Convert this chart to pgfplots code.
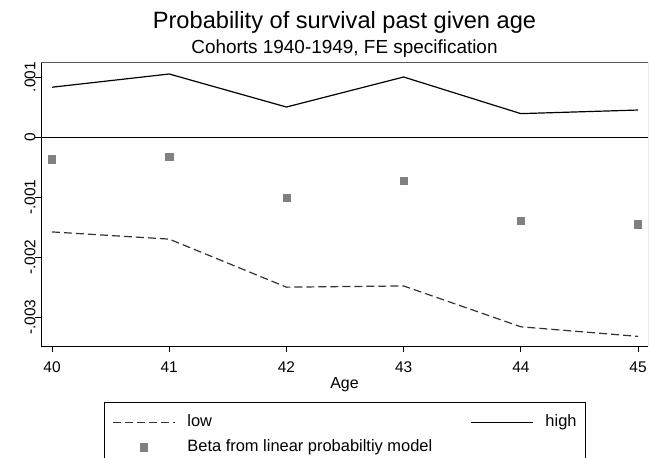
\documentclass[border=0pt]{standalone}
\usepackage{fontspec}
\setmainfont{Liberation Sans}
\usepackage{pgfplots}
\pgfplotsset{compat=1.18}
\begin{document}
\begin{tikzpicture}
\begin{axis}[
  scale only axis, width=607bp, height=284bp,
  xmin=39.906, xmax=45.085, ymin=-0.00348, ymax=0.00125,
  axis x line*=bottom, axis y line*=left,
  axis line style={line width=0.9bp, black},
  xtick={40,41,42,43,44,45}, xticklabels={40,41,42,43,44,45},
  ytick={-0.003,-0.002,-0.001,0,0.001}, yticklabels={-.003,-.002,-.001,0,.001},
  scaled y ticks=false, scaled x ticks=false,
  tick align=outside, major tick length=6bp,
  tick style={black, line width=0.9bp},
  xticklabel style={font=\fontsize{15.5}{16}\selectfont, anchor=base, yshift=-20bp},
  yticklabel style={rotate=90, anchor=south, font=\fontsize{15.5}{16}\selectfont},
  yticklabel shift=-4bp,
  xlabel={Age}, xlabel style={font=\fontsize{16}{16}\selectfont, at={(axis description cs:0.5,-0.1514)}, anchor=base},
  legend columns=2,
  legend cell align=left,
  legend style={at={(axis description cs:0.1038,-0.1972)}, anchor=north west,
    draw=none, fill=none, font=\fontsize{16.5}{16.5}\selectfont,
    nodes={inner sep=0bp, text height=12bp, text depth=4bp},
    /tikz/every odd column/.append style={column sep=12bp},
    /tikz/every even column/.append style={column sep=38bp},
    inner xsep=8bp, inner ysep=12bp, row sep=9bp},
  legend image code/.code={\draw[mark repeat=2,mark phase=2,#1] plot coordinates {(0bp,0bp) (31bp,0bp) (62bp,0bp)};},
]
\addplot[black, line width=0.9bp, forget plot] coordinates {(39.906,0) (45.085,0)};
\addplot[black!80, line width=1.2bp, dash pattern=on 8bp off 4bp] coordinates {
  (40,-0.00158) (41,-0.00170) (42,-0.00250) (43,-0.00248) (44,-0.00316) (45,-0.00332)};
\addlegendentry{low}
\addplot[black, line width=1.2bp] coordinates {
  (40,0.00083) (41,0.00105) (42,0.00050) (43,0.00100) (44,0.00039) (45,0.00045)};
\addlegendentry{high}
\addplot[only marks, mark=square*, mark size=3.6bp, draw=black!50, fill=black!50] coordinates {
  (40,-0.00037) (41,-0.00033) (42,-0.00101) (43,-0.00073) (44,-0.00139) (45,-0.00145)};
\addlegendentry{Beta from linear probabiltiy model}
\draw[black!65, line width=0.9bp] (rel axis cs:0,1) -- (rel axis cs:1,1) -- (rel axis cs:1,0);
\end{axis}
\draw[black, line width=0.9bp] (63bp,-135bp) -- (63bp,-56bp) -- (544bp,-56bp) -- (544bp,-135bp);
\node[font=\fontsize{23.7}{24}\selectfont] at (303.5bp,324bp) {Probability of survival past given age};
\node[font=\fontsize{19}{19}\selectfont] at (303.5bp,297.5bp) {Cohorts 1940-1949, FE specification};
\pgfresetboundingbox
\path[use as bounding box] (-41bp,-112bp) rectangle (608bp,346bp);
\end{tikzpicture}
\end{document}
